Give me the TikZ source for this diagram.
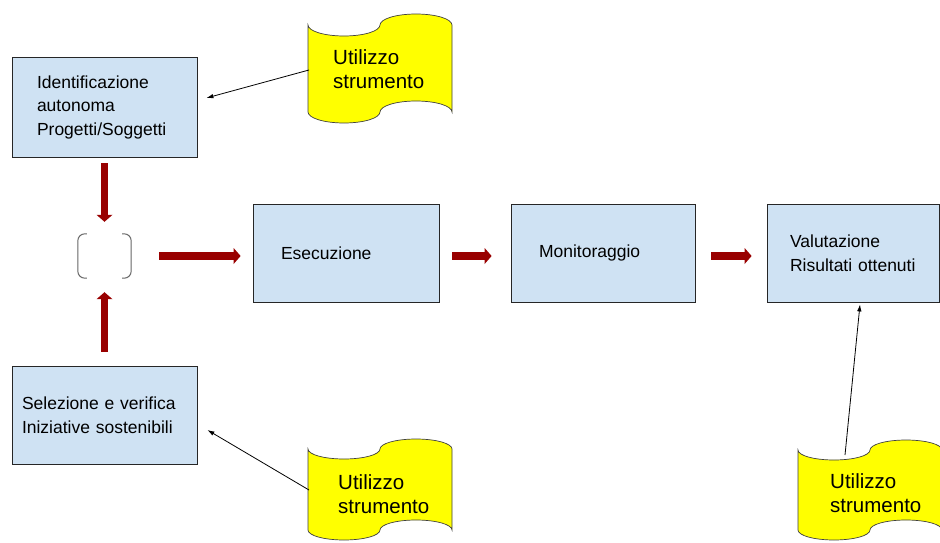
\documentclass[tikz,border=0pt]{standalone}
\usepackage{fontspec}
\setmainfont{Liberation Sans}
\usetikzlibrary{arrows.meta,calc}

\definecolor{boxblue}{HTML}{CFE2F3}
\definecolor{tapeyellow}{HTML}{FFFF00}
\definecolor{flowred}{HTML}{990000}

% Punched-tape banner: left, top, right, bottom, wave depth
\newcommand\tapeshape[5]{%
  \pgfmathsetmacro\tapeq{(#3-#1)/4}%
  \pgfmathsetmacro\tapem{(#1+#3)/2}%
  \pgfmathsetmacro\tapek{0.5523*\tapeq}%
  \pgfmathsetmacro\tapey{0.5523*#5}%
  \filldraw[tape] (#1,#2)
    .. controls (#1,#2+\tapey) and (#1+\tapeq-\tapek,#2+#5) .. (#1+\tapeq,#2+#5)
    .. controls (#1+\tapeq+\tapek,#2+#5) and (\tapem,#2+\tapey) .. (\tapem,#2)
    .. controls (\tapem,#2-\tapey) and (\tapem+\tapeq-\tapek,#2-#5) .. (\tapem+\tapeq,#2-#5)
    .. controls (\tapem+\tapeq+\tapek,#2-#5) and (#3,#2-\tapey) .. (#3,#2)
    -- (#3,#4)
    .. controls (#3,#4-\tapey) and (\tapem+\tapeq+\tapek,#4-#5) .. (\tapem+\tapeq,#4-#5)
    .. controls (\tapem+\tapeq-\tapek,#4-#5) and (\tapem,#4-\tapey) .. (\tapem,#4)
    .. controls (\tapem,#4+\tapey) and (#1+\tapeq+\tapek,#4+#5) .. (#1+\tapeq,#4+#5)
    .. controls (#1+\tapeq-\tapek,#4+#5) and (#1,#4+\tapey) .. (#1,#4)
    -- cycle;%
}

\tikzset{
  box/.style={draw=black!85, line width=0.8pt, fill=boxblue, align=left,
    inner ysep=0pt, font=\fontsize{17.5}{23.5}\selectfont},
  tape/.style={draw=black!75, line width=0.7pt, fill=tapeyellow},
  tapetext/.style={align=left, inner sep=0pt, anchor=west,
    font=\fontsize{20.5}{24}\selectfont},
  flow/.style={draw=flowred, line width=7.5pt,
    -{Triangle[width=16pt,length=7pt,line width=0pt]}},
  link/.style={draw=black, line width=0.8pt,
    -{Latex[length=7pt,width=4.5pt]}},
  bracket/.style={draw=black!60, line width=1pt, rounded corners=7pt},
}

\begin{document}
\begin{tikzpicture}[x=1pt,y=-1pt]
  \fill[white] (0,0) rectangle (940,543);
  \useasboundingbox (0,0) rectangle (940,543);

  % process boxes
  \node[box, minimum width=185, minimum height=100, inner xsep=25, text width=135]
    (ident) at (104.5,107) {Identificazione\\autonoma\\Progetti/Soggetti};
  \node[box, minimum width=185, minimum height=98, inner xsep=10, text width=165]
    (sel) at (104.5,415) {Selezione e verifica\\Iniziative sostenibili};
  \node[box, minimum width=186, minimum height=98, inner xsep=28, text width=130]
    (ese) at (346,253) {Esecuzione};
  \node[box, minimum width=184, minimum height=98, inner xsep=28, text width=128]
    (mon) at (603,253) {Monitoraggio};
  \node[box, minimum width=172.5, minimum height=98, inner xsep=23, text width=126.5]
    (val) at (853.25,253) {Valutazione\\Risultati ottenuti};

  % merge point drawn as a pair of brackets
  \node[minimum width=53, minimum height=44, inner sep=0pt] (merge) at (104.5,256) {};
  \draw[bracket] ([xshift=9pt]merge.north west) -- (merge.north west)
    -- (merge.south west) -- ([xshift=9pt]merge.south west);
  \draw[bracket] ([xshift=-9pt]merge.north east) -- (merge.north east)
    -- (merge.south east) -- ([xshift=-9pt]merge.south east);

  % tool banners
  \tapeshape{308}{25}{452}{112}{11}
  \tapeshape{308}{449}{452}{530}{10}
  \tapeshape{798}{450}{942}{530}{10}
  \node[tapetext] (u1) at (333,69) {Utilizzo\\strumento};
  \node[tapetext] (u2) at (338,494) {Utilizzo\\strumento};
  \node[tapetext] (u3) at (830,493) {Utilizzo\\strumento};
  \coordinate (t1) at (309,70);
  \coordinate (t2) at (309,490);
  \coordinate (t3) at (845,455);

  % main flow
  \draw[flow, shorten <=6pt, shorten >=12pt] (ident.south) -- (merge.north);
  \draw[flow, shorten <=14pt, shorten >=14pt] (sel.north) -- (merge.south);
  \draw[flow, shorten <=28pt, shorten >=12pt] (merge.east) -- (merge.east -| ese.west);
  \draw[flow, shorten <=13pt, shorten >=19pt] ([yshift=-3pt]ese.east) -- ([yshift=-3pt]mon.west);
  \draw[flow, shorten <=16pt, shorten >=15pt] ([yshift=-3pt]mon.east) -- ([yshift=-3pt]val.west);

  % tool links
  \draw[link] (t1) -- ([xshift=9pt,yshift=9pt]ident.east);
  \draw[link] (t2) -- ([xshift=10pt,yshift=-15pt]sel.east);
  \draw[link] (t3) -- ([xshift=6.75pt,yshift=-2pt]val.south);
\end{tikzpicture}
\end{document}
